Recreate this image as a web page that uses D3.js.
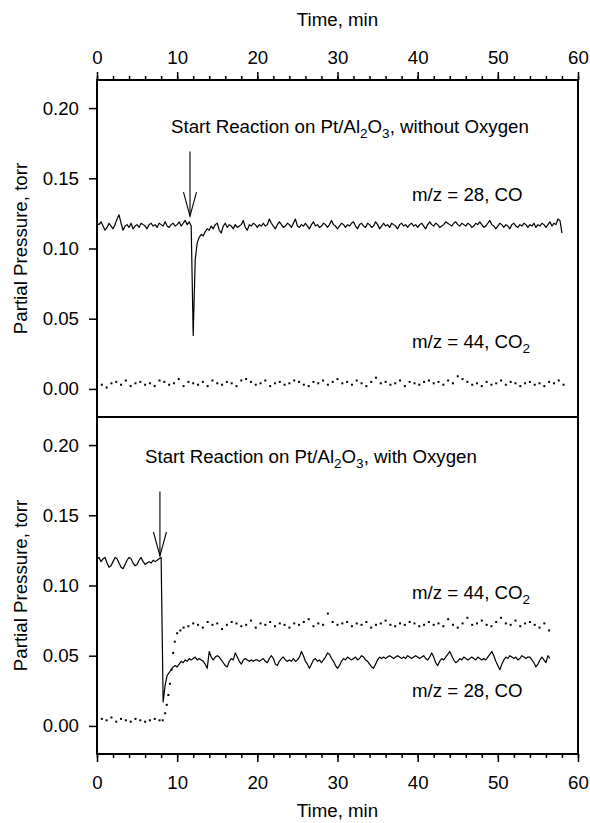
<!DOCTYPE html>
<html><head><meta charset="utf-8">
<script src="https://cdn.jsdelivr.net/npm/d3@7"></script>
<style>html,body{margin:0;padding:0;background:#fff;} svg{display:block;}</style>
</head><body>
<svg id="chart" width="590" height="823"></svg>
<script>
// ---------------- DATA ----------------
const xTickValues = [0, 10, 20, 30, 40, 50, 60];
const xMinorTickValues = [0,2,4,6,8,10,12,14,16,18,20,22,24,26,28,30,32,34,36,38,40,42,44,46,48,50,52,54,56,58,60];
const yTickValues = [0, 0.05, 0.10, 0.15, 0.20];
const xAxisTitle = "Time, min";
const yAxisTitle = "Partial Pressure, torr";

// CO trace sampled every 0.25 min, values in 0.001 torr
const coSampleStep = 0.25;
const upperCO = [
 118,117,119,116,113,115,118,116,
 114,117,121,124,118,113,116,117,
 115,118,114,116,117,115,118,117,
 116,114,117,118,116,117,115,118,
 117,116,119,116,115,117,118,116,
 117,119,116,118,120,117,119,116,
 38,92,104,108,110,109,112,114,
 113,116,114,117,118,113,111,116,
 118,115,117,116,114,117,115,116,
 117,120,115,113,117,116,118,117,
 115,117,116,118,116,117,121,118,
 116,114,117,119,117,115,116,118,
 117,115,118,121,116,115,117,116,
 118,116,114,117,119,116,117,115,
 116,118,117,115,117,120,117,116,
 114,116,118,117,115,117,116,118,
 119,116,114,117,118,116,115,118,
 117,115,116,119,117,114,116,118,
 116,117,115,118,117,116,114,117,
 118,116,117,115,117,118,116,117,
 115,117,118,116,114,117,119,117,
 116,118,117,115,116,117,119,118,
 117,116,118,119,117,116,118,117,
 116,118,117,115,116,118,117,119,
 117,115,116,118,120,117,116,114,
 116,118,117,115,117,116,114,117,
 118,116,115,117,116,118,117,115,
 117,116,118,115,117,116,118,117,
 115,117,119,116,118,117,121,120,
 111
];
const lowerCO = [
 119,120,117,119,120,116,113,114,
 117,120,119,116,113,112,115,118,
 120,119,116,114,115,118,120,117,
 115,116,117,116,118,117,118,119,
 120,17,29,36,38,40,42,43,
 42,44,46,45,47,46,48,47,
 48,49,47,48,47,46,44,41,
 53,49,47,49,50,49,47,45,
 43,42,46,48,47,52,49,46,
 44,47,48,47,46,47,46,47,
 47,46,47,48,46,45,48,50,
 48,44,43,46,48,49,47,46,
 47,46,48,46,47,49,53,50,
 46,44,41,44,47,48,46,47,
 45,47,49,52,51,48,46,43,
 41,43,46,48,47,49,48,47,
 48,49,47,48,50,49,47,46,
 44,42,41,44,47,49,48,49,
 48,49,50,49,48,49,50,49,
 48,49,48,50,49,48,49,50,
 49,48,49,50,48,47,49,52,
 49,45,43,46,48,47,49,51,
 53,50,47,45,46,48,47,49,
 48,47,48,49,48,47,49,48,
 47,48,47,49,51,53,50,46,
 43,40,44,47,49,48,50,49,
 48,49,47,48,50,49,48,49,
 49,47,45,42,44,47,49,47,
 45,50,48
];

// CO2 points sampled every 0.6 min, values in 0.001 torr
const co2SampleStep = 0.6;
const upperCO2 = [
 2,3,1,4,5,3,6,2,4,5,
 3,4,2,6,5,3,4,7,2,5,
 4,3,5,2,6,4,3,5,4,2,
 6,7,5,3,4,6,2,4,5,3,
 4,6,5,3,2,5,4,6,3,5,
 7,4,5,3,6,4,2,5,8,4,
 5,3,4,6,2,5,4,3,5,6,
 4,5,3,6,4,9,7,5,3,4,
 2,5,3,4,6,3,5,4,2,4,
 5,3,4,2,5,4,6,3
];
const lowerCO2Before = [8,5,4,6,3,5,4,3,5,4,3,4,5,4];          // t = 0 ... 7.8
const lowerCO2RiseTimes  = [8.2, 8.5, 8.7, 8.9, 9.1, 9.3, 9.5, 9.7, 10.0, 10.4, 10.8];
const lowerCO2RiseValues = [4, 9, 15, 22, 30, 40, 52, 60, 66, 68, 70];
const lowerCO2AfterStart = 11.4;
const lowerCO2After = [
 71,73,72,70,74,72,73,69,72,74,
 73,71,72,75,70,73,72,74,71,73,
 72,70,73,72,74,76,71,73,72,80,
 74,72,73,74,71,73,72,74,70,72,
 73,75,72,71,73,72,74,73,71,72,
 74,72,73,71,76,72,70,73,77,72,
 73,75,72,71,74,77,73,72,75,71,
 73,74,72,70,73,68
];

// annotations
const upperTitle = {pre: "Start Reaction on Pt/Al", s1: "2", mid: "O", s2: "3", post: ", without Oxygen"};
const lowerTitle = {pre: "Start Reaction on Pt/Al", s1: "2", mid: "O", s2: "3", post: ", with Oxygen"};
const upperArrow = {t: 11.6, from: 0.169, to: 0.123};
const lowerArrow = {t: 7.85, from: 0.167, to: 0.121};

// ---------------- CHART ----------------
const FONT = "'Liberation Sans', Arial, Helvetica, sans-serif";
const FS = 18.7;
const SUB = 13.5;
const svg = d3.select("#chart").style("font-family", FONT);

const L = 97, R = 578, TOP = 80, MID = 417, BOT = 754;
const x = d3.scaleLinear().domain([0, 60]).range([L, R]);
const yU = d3.scaleLinear().domain([-0.02, 0.22]).range([MID, TOP]);
const yL = d3.scaleLinear().domain([-0.02, 0.22]).range([BOT, MID]);

function series(arr, step, t0 = 0) { return arr.map((v, i) => ({t: t0 + i * step, v: v / 1000})); }

const upCO = series(upperCO, coSampleStep);
const loCO = series(lowerCO, coSampleStep);
const upCO2 = series(upperCO2, co2SampleStep);
const loCO2 = series(lowerCO2Before, co2SampleStep)
  .concat(lowerCO2RiseTimes.map((t, i) => ({t, v: lowerCO2RiseValues[i] / 1000})))
  .concat(series(lowerCO2After, co2SampleStep, lowerCO2AfterStart));

function styleAxis(g) {
  g.select(".domain").remove();
  g.selectAll(".tick line").attr("stroke", "#000").attr("stroke-width", 1.5);
  g.selectAll(".tick text").attr("fill", "#000").style("font-size", FS + "px").style("font-family", FONT);
}

// x axes (top and bottom) with minor ticks
svg.append("g").attr("transform", `translate(0,${TOP})`)
  .call(d3.axisTop(x).tickValues(xMinorTickValues).tickSize(4).tickFormat(""))
  .call(styleAxis);
svg.append("g").attr("transform", `translate(0,${TOP})`)
  .call(d3.axisTop(x).tickValues(xTickValues).tickSize(8).tickPadding(8).tickFormat(d3.format("d")))
  .call(styleAxis);
svg.append("g").attr("transform", `translate(0,${BOT})`)
  .call(d3.axisBottom(x).tickValues(xMinorTickValues).tickSize(4).tickFormat(""))
  .call(styleAxis);
svg.append("g").attr("transform", `translate(0,${BOT})`)
  .call(d3.axisBottom(x).tickValues(xTickValues).tickSize(8).tickPadding(14).tickFormat(d3.format("d")))
  .call(styleAxis);

// y axes
[yU, yL].forEach(y => {
  svg.append("g").attr("transform", `translate(${L},0)`)
    .call(d3.axisLeft(y).tickValues(yTickValues).tickSize(8).tickPadding(10).tickFormat(d3.format(".2f")))
    .call(styleAxis);
});

// frame
const frame = svg.append("g").attr("stroke", "#000").attr("stroke-width", 2).attr("fill", "none");
frame.append("rect").attr("x", L).attr("y", TOP).attr("width", R - L).attr("height", BOT - TOP);
frame.append("line").attr("x1", L).attr("x2", R).attr("y1", MID).attr("y2", MID);

// axis titles
svg.append("text").attr("x", (L + R) / 2).attr("y", 26).attr("text-anchor", "middle")
  .style("font-size", FS + "px").text(xAxisTitle);
svg.append("text").attr("x", (L + R) / 2).attr("y", 817).attr("text-anchor", "middle")
  .style("font-size", FS + "px").text(xAxisTitle);
[[TOP, MID], [MID, BOT]].forEach(([a, b]) => {
  svg.append("text").attr("transform", `translate(27,${(a + b) / 2}) rotate(-90)`)
    .attr("text-anchor", "middle").style("font-size", FS + "px").text(yAxisTitle);
});

// data marks
function drawLine(data, y) {
  svg.append("path").datum(data)
    .attr("fill", "none").attr("stroke", "#000").attr("stroke-width", 1.2).attr("stroke-linejoin", "round")
    .attr("d", d3.line().x(d => x(d.t)).y(d => y(d.v)));
}
function drawDots(data, y) {
  svg.append("g").selectAll("rect").data(data).join("rect")
    .attr("x", d => x(d.t) - 1).attr("y", d => y(d.v) - 1)
    .attr("width", 2).attr("height", 2).attr("fill", "#000");
}
drawLine(upCO, yU); drawDots(upCO2, yU);
drawLine(loCO, yL); drawDots(loCO2, yL);

// arrows
function drawArrow(a, y) {
  const g = svg.append("g").attr("stroke", "#000").attr("stroke-width", 1.1).attr("fill", "none");
  const xt = x(a.t), y0 = y(a.from), y1 = y(a.to);
  g.append("line").attr("x1", xt).attr("x2", xt).attr("y1", y0).attr("y2", y1);
  g.append("path").attr("d", `M${xt - 6.5},${y1 - 24}L${xt},${y1}L${xt + 6.5},${y1 - 24}`);
}
drawArrow(upperArrow, yU);
drawArrow(lowerArrow, yL);

// labels with subscripts
function richText(xp, yp, parts) {
  const t = svg.append("text").attr("x", xp).attr("y", yp).style("font-size", FS + "px");
  parts.forEach(p => {
    const s = t.append("tspan").text(p.text);
    if (p.sub) s.attr("dy", 5).style("font-size", SUB + "px");
    if (p.after) s.attr("dy", -5);
  });
  return t;
}
function titleParts(o) {
  return [{text: o.pre}, {text: o.s1, sub: true}, {text: o.mid, after: true},
          {text: o.s2, sub: true}, {text: o.post, after: true}];
}
richText(171, 133, titleParts(upperTitle));
richText(145, 463, titleParts(lowerTitle));
richText(412, 201, [{text: "m/z = 28, CO"}]);
richText(412, 348, [{text: "m/z = 44, CO"}, {text: "2", sub: true}]);
richText(412, 599, [{text: "m/z = 44, CO"}, {text: "2", sub: true}]);
richText(412, 697, [{text: "m/z = 28, CO"}]);
</script>
</body></html>
